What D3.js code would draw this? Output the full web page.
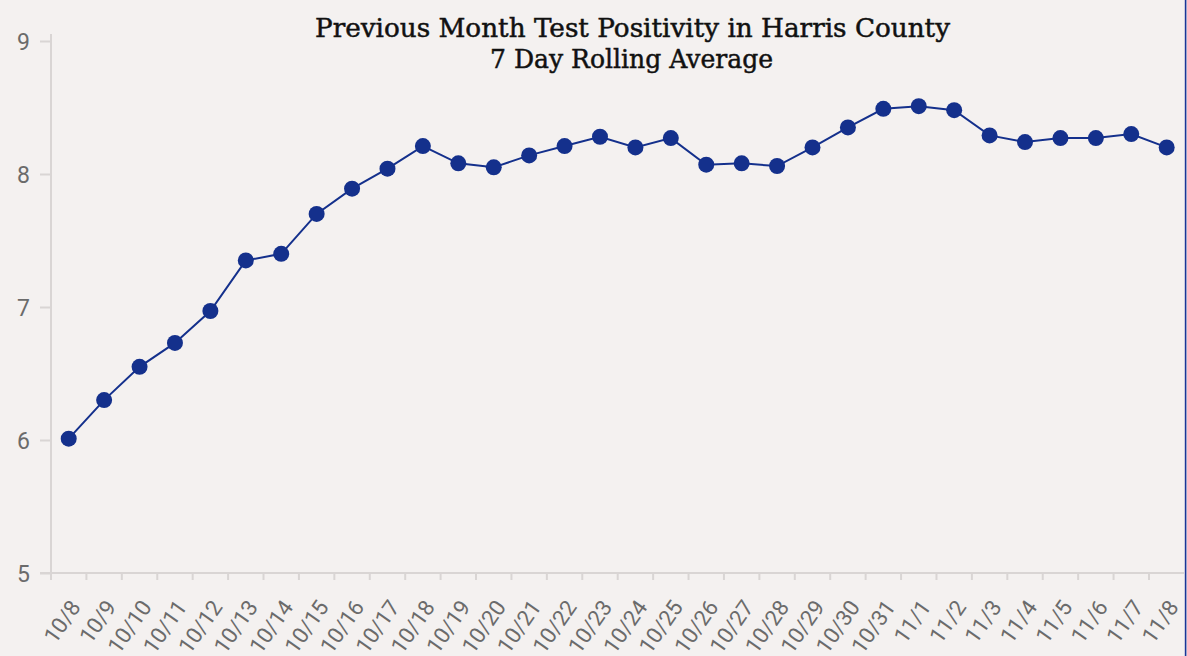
<!DOCTYPE html>
<html>
<head>
<meta charset="utf-8">
<script src="https://cdn.jsdelivr.net/npm/d3@7"></script>
<style>
  html, body { margin: 0; padding: 0; background: #f4f1f0; }
  svg { display: block; }
</style>
</head>
<body>
<svg id="chart" width="1187" height="656"></svg>
<script>
const dates = ["10/8","10/9","10/10","10/11","10/12","10/13","10/14","10/15","10/16","10/17",
  "10/18","10/19","10/20","10/21","10/22","10/23","10/24","10/25","10/26","10/27","10/28",
  "10/29","10/30","10/31","11/1","11/2","11/3","11/4","11/5","11/6","11/7","11/8"];
const positivity = [6.01,6.30,6.55,6.73,6.97,7.35,7.40,7.70,7.89,8.04,
  8.21,8.08,8.05,8.14,8.21,8.28,8.20,8.27,8.07,8.08,8.06,
  8.20,8.35,8.49,8.51,8.48,8.29,8.24,8.27,8.27,8.30,8.20];
const yTicks = [5,6,7,8,9];
const titleLines = ["Previous Month Test Positivity in Harris County", "7 Day Rolling Average"];

const W = 1187, H = 656;
const svg = d3.select("#chart");
svg.append("rect").attr("width", W).attr("height", H).attr("fill", "#f4f1f0");

const x = d3.scaleBand().domain(dates).range([51, 1184.4]).padding(0);
const y = d3.scaleLinear().domain([5, 9]).range([573, 41]);

const axisColor = "#d9d5d4";
const labelColor = "#6b6b6b";

// Y axis
const yAxis = svg.append("g").attr("transform", "translate(51,0)")
  .call(d3.axisLeft(y).tickValues(yTicks).tickSize(11).tickPadding(0).tickFormat(d3.format("d")));
yAxis.select(".domain").remove();
yAxis.selectAll(".tick line").attr("stroke", axisColor).attr("stroke-width", 2);
yAxis.selectAll(".tick text").attr("x", -21).attr("dy", "0.36em")
  .attr("fill", labelColor).style("font-family", "Roboto, sans-serif")
  .style("font-size", "23px");
svg.append("line").attr("x1", 51).attr("x2", 51).attr("y1", 34).attr("y2", 580)
  .attr("stroke", axisColor).attr("stroke-width", 2);

// X axis
svg.append("line").attr("x1", 40).attr("x2", 1184).attr("y1", y(5)).attr("y2", y(5))
  .attr("stroke", axisColor).attr("stroke-width", 2);
const xg = svg.append("g");
xg.selectAll("line.xt").data(dates).join("line")
  .attr("class", "xt")
  .attr("x1", d => x(d)).attr("x2", d => x(d))
  .attr("y1", y(5)).attr("y2", y(5) + 7)
  .attr("stroke", axisColor).attr("stroke-width", 2);
xg.selectAll("text").data(dates).join("text")
  .attr("transform", d => `translate(${x(d) + x.bandwidth() / 2 + 13},607) rotate(-55)`)
  .attr("text-anchor", "end")
  .attr("fill", labelColor)
  .style("font-family", "Roboto, sans-serif").style("font-size", "22px")
  .text(d => d);

// Line and points
const lineColor = "#14308c";
const line = d3.line().x((d, i) => x(dates[i]) + x.bandwidth() / 2).y(d => y(d));
svg.append("path").datum(positivity).attr("d", line)
  .attr("fill", "none").attr("stroke", lineColor).attr("stroke-width", 2);
svg.selectAll("circle.pt").data(positivity).join("circle")
  .attr("class", "pt")
  .attr("cx", (d, i) => x(dates[i]) + x.bandwidth() / 2)
  .attr("cy", d => y(d))
  .attr("r", 8)
  .attr("fill", lineColor);

// Title
const title = svg.append("g").style("font-family", "'DejaVu Serif', serif")
  .attr("fill", "#111").attr("stroke", "#111").attr("stroke-width", 0.5);
title.append("text").attr("x", 632.5).attr("y", 37).attr("text-anchor", "middle")
  .style("font-size", "26px").attr("textLength", 635).attr("lengthAdjust", "spacingAndGlyphs")
  .text(titleLines[0]);
title.append("text").attr("x", 631.5).attr("y", 68).attr("text-anchor", "middle")
  .style("font-size", "26px").attr("textLength", 283).attr("lengthAdjust", "spacingAndGlyphs")
  .text(titleLines[1]);

// Right border
svg.append("rect").attr("x", 1184.8).attr("y", 0).attr("width", 1.6).attr("height", H).attr("fill", "#1a3596");
</script>
</body>
</html>
